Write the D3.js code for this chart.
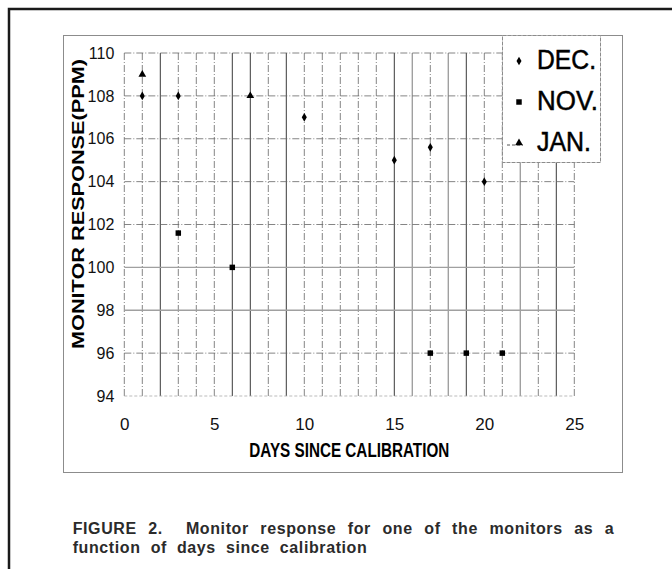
<!DOCTYPE html>
<html>
<head>
<meta charset="UTF-8">
<title>Monitor response vs days since calibration</title>
<script src="https://cdnjs.cloudflare.com/ajax/libs/d3/7.8.5/d3.min.js"></script>
<style>
  body { margin: 0; background: #fff; }
  svg { display: block; }
  text { font-family: "Liberation Sans", Arial, sans-serif; }
  .ytick text { font-size: 16px; fill: #111; }
  .xtick text { font-size: 17px; fill: #111; }
  .caption { font-size: 16px; font-weight: bold; fill: #2b2b2b; white-space: pre; }
</style>
</head>
<body>
<svg id="chart" width="672" height="569"></svg>
<script>
// values
const decDays = [1, 3, 10, 15, 17, 20];
const decValues = [108, 108, 107, 105, 105.6, 104];
const novDays = [3, 6, 17, 19, 21];
const novValues = [101.6, 100, 96, 96, 96];
const janDays = [1, 7];
const janValues = [109, 108];
const seriesNames = ["DEC.", "NOV.", "JAN."];
const xTicks = [0, 5, 10, 15, 20, 25];
const yTicks = [94, 96, 98, 100, 102, 104, 106, 108, 110];

// look of the scanned grid lines (s solid, g grey, d dash-dot, l light dashed)
const vGridLook = "ddsdddssdsdddddsgdgsddgdsd";
const hGridLook = "ldggdddddg";

const svg = d3.select("#chart");

const x = d3.scaleLinear().domain([0, 25]).range([124.3, 574.3]);
const y = d3.scaleLinear().domain([94, 110]).range([396, 53]);

const look = {
  s: {stroke: "#3a3a3a", width: 1, dash: null},
  g: {stroke: "#a0a0a0", width: 1.4, dash: null},
  d: {stroke: "#666", width: 0.8, dash: "7,2,1,2"},
  l: {stroke: "#aaa", width: 0.8, dash: "3,2"}
};

// outer page frame (only top and left visible)
svg.append("path")
  .attr("d", "M9,569V9H672")
  .attr("fill", "none")
  .attr("stroke", "#1a1a1a")
  .attr("stroke-width", 2.5);

// chart box
svg.append("rect")
  .attr("x", 63.5).attr("y", 35.5)
  .attr("width", 559).attr("height", 437)
  .attr("fill", "none")
  .attr("stroke", "#8c8c8c");

// vertical grid, one line per day
const days = x.ticks(25);
svg.append("g").selectAll("line")
  .data(days)
  .join("line")
  .attr("x1", d => x(d)).attr("x2", d => x(d))
  .attr("y1", y(94)).attr("y2", y(110))
  .attr("stroke", (d, i) => look[vGridLook[i]].stroke)
  .attr("stroke-width", (d, i) => look[vGridLook[i]].width)
  .attr("stroke-dasharray", (d, i) => look[vGridLook[i]].dash);

// horizontal grid
svg.append("g").selectAll("line")
  .data(yTicks)
  .join("line")
  .attr("x1", x(0)).attr("x2", x(25))
  .attr("y1", d => y(d)).attr("y2", d => y(d))
  .attr("stroke", (d, i) => look[hGridLook[i]].stroke)
  .attr("stroke-width", (d, i) => look[hGridLook[i]].width)
  .attr("stroke-dasharray", (d, i) => look[hGridLook[i]].dash);

// axes
const yAxis = svg.append("g")
  .attr("class", "ytick")
  .attr("transform", `translate(${x(0)},0)`)
  .call(d3.axisLeft(y).tickValues(yTicks).tickSize(0).tickPadding(10));
yAxis.select(".domain").remove();

const xAxis = svg.append("g")
  .attr("class", "xtick")
  .attr("transform", `translate(0,${y(94)})`)
  .call(d3.axisBottom(x).tickValues(xTicks).tickSize(0).tickPadding(22));
xAxis.select(".domain").remove();

// axis titles
svg.append("text")
  .attr("transform", "translate(84,204) rotate(-90)")
  .attr("text-anchor", "middle")
  .attr("font-size", 16.5)
  .attr("font-weight", "bold")
  .attr("textLength", 290)
  .attr("lengthAdjust", "spacingAndGlyphs")
  .text("MONITOR RESPONSE(PPM)");

svg.append("text")
  .attr("x", x(12.5)).attr("y", 457)
  .attr("text-anchor", "middle")
  .attr("font-size", 19.5)
  .attr("font-weight", "bold")
  .attr("textLength", 200)
  .attr("lengthAdjust", "spacingAndGlyphs")
  .text("DAYS SINCE CALIBRATION");

// markers
const shapes = [d3.symbolDiamond, d3.symbolSquare, d3.symbolTriangle];
const sizes = [22, 30, 26];
const series = [
  d3.zip(decDays, decValues),
  d3.zip(novDays, novValues),
  d3.zip(janDays, janValues)
];

series.forEach((pts, i) => {
  svg.append("g").selectAll("path")
    .data(pts)
    .join("path")
    .attr("transform", d => `translate(${x(d[0])},${y(d[1])})`)
    .attr("d", d3.symbol(shapes[i], sizes[i]))
    .attr("fill", "#000");
});

// legend
const legend = svg.append("g");
legend.append("rect")
  .attr("x", 502.5).attr("y", 35.5)
  .attr("width", 98).attr("height", 127)
  .attr("fill", "#fff")
  .attr("stroke", "#8c8c8c")
  .attr("stroke-dasharray", "4,1");

const legendWidths = [59, 61, 54];
seriesNames.forEach((name, i) => {
  const by = 69 + i * 41;
  if (i === 2) {
    legend.append("line")
      .attr("x1", 507).attr("x2", 523)
      .attr("y1", by - 6).attr("y2", by - 6)
      .attr("stroke", "#555")
      .attr("stroke-dasharray", "3,2");
  }
  legend.append("path")
    .attr("transform", `translate(519,${by - 8})`)
    .attr("d", d3.symbol(shapes[i], sizes[i]))
    .attr("fill", "#000");
  legend.append("text")
    .attr("x", 537).attr("y", by)
    .attr("font-size", 27)
    .attr("stroke", "#000")
    .attr("stroke-width", 0.5)
    .attr("textLength", legendWidths[i])
    .attr("lengthAdjust", "spacingAndGlyphs")
    .text(name);
});

// caption, first line justified
const line1 = svg.append("text")
  .attr("class", "caption")
  .attr("x", 72.7).attr("y", 534)
  .attr("letter-spacing", 0.6)
  .text("FIGURE 2.  Monitor response for one of the monitors as a");
const natural = line1.node().getComputedTextLength();
const gaps = line1.text().split(" ").length - 1;
line1.attr("word-spacing", (614.3 - 72.7 - natural) / gaps);

svg.append("text")
  .attr("class", "caption")
  .attr("x", 72.7).attr("y", 553)
  .attr("letter-spacing", 0.6)
  .attr("word-spacing", 5)
  .text("function of days since calibration");
</script>
</body>
</html>
